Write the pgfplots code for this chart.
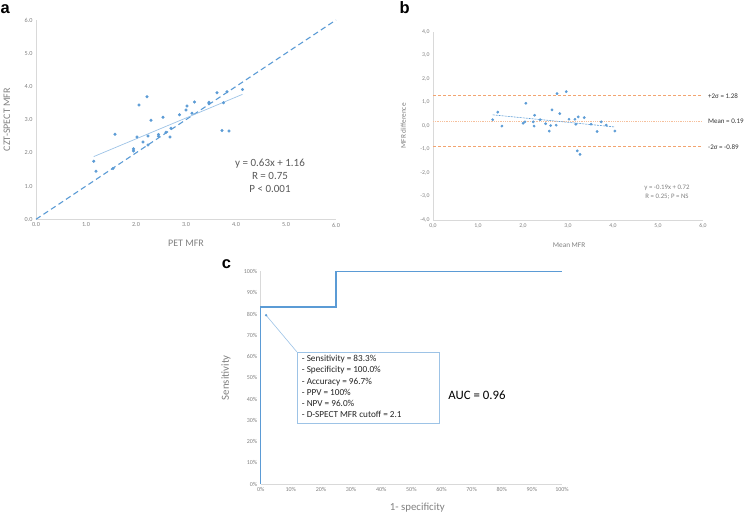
\documentclass[border=0pt]{standalone}
\usepackage{fontspec}
\setmainfont{Carlito}
\newfontfamily\panelfont{Liberation Sans}
\usepackage{pgfplots}
\pgfplotsset{compat=1.18}

\definecolor{xlblue}{HTML}{5B9BD5}
\definecolor{trendblue}{HTML}{9DC3E6}
\definecolor{axgray}{HTML}{D9D9D9}
\definecolor{tkgray}{HTML}{808080}
\definecolor{txgray}{HTML}{595959}
\definecolor{xlorange}{HTML}{F2A470}
\definecolor{meanorange}{HTML}{F6C09C}

\pgfplotsset{
  excel/.style={
    scale only axis, enlargelimits=false, clip=false,
    axis x line*=bottom, axis y line*=left,
    axis line style={-, axgray, line width=0.8pt},
    major tick length=0pt,
    tick label style={text=tkgray},
    label style={text=tkgray},
    /pgf/number format/assume math mode=true,
  },
  dots/.style={only marks, mark=*, mark size=1.35pt, color=xlblue},
}

\begin{document}
\begin{tikzpicture}[x=1pt,y=1pt]
\useasboundingbox (0,0) rectangle (746,514);

% panel letters
\node[anchor=base west, inner sep=0, font=\panelfont\bfseries\fontsize{16.5}{18}\selectfont] at (0.5,500.7) {a};
\node[anchor=base west, inner sep=0, font=\panelfont\bfseries\fontsize{16.5}{18}\selectfont] at (399.3,500.7) {b};
\node[anchor=base west, inner sep=0, font=\panelfont\bfseries\fontsize{16.5}{18}\selectfont] at (221.6,245.7) {c};

% ---------- a: CZT-SPECT vs PET ----------
\begin{axis}[excel,
  at={(36pt,294.7pt)}, anchor=south west,
  width=300pt, height=199.3pt,
  xmin=0, xmax=6, ymin=0, ymax=6,
  xtick={0,1,...,6}, ytick={0,1,...,6},
  /pgf/number format/.cd, fixed, fixed zerofill, precision=1, /pgfplots/.cd,
  tick label style={font=\fontsize{6.2}{7}\selectfont},
  xlabel={PET MFR}, ylabel={CZT-SPECT MFR},
  label style={font=\fontsize{10}{12}\selectfont},
  xlabel style={at={(axis description cs:0.5,-0.119)}, anchor=center},
  ylabel style={at={(axis description cs:-0.097,0.5)}, anchor=center},
]
\addplot[xlblue, line width=1.1pt, dash pattern=on 5.5pt off 3.5pt] coordinates {(0,0) (6,6)};
\addplot[trendblue, line width=0.7pt] coordinates {(1.155,1.888) (4.13,3.762)};
\addplot[dots] coordinates {
 (1.155,1.745) (1.20,1.45) (1.54,1.53) (1.58,2.56) (1.95,2.12) (1.95,2.06)
 (2.02,2.48) (2.06,3.44) (2.14,2.33) (2.22,3.69) (2.24,2.51) (2.24,2.24)
 (2.30,2.98) (2.45,2.55) (2.45,2.50) (2.54,3.07) (2.60,2.62) (2.68,2.48)
 (2.70,2.74) (2.87,3.15) (3.00,3.29) (3.02,3.41) (3.12,3.19) (3.17,3.53)
 (3.46,3.52) (3.46,3.48) (3.62,3.81) (3.72,2.67) (3.75,3.51) (3.82,3.84)
 (3.86,2.66) (4.13,3.91)};
\node[text=txgray, font=\fontsize{11}{13}\selectfont, align=center] at (axis cs:4.68,1.32)
  {y = 0.63x + 1.16\\R = 0.75\\P < 0.001};
\end{axis}

% ---------- b: Bland-Altman ----------
\begin{axis}[excel,
  at={(433pt,294pt)}, anchor=south west,
  width=270pt, height=188.3pt,
  xmin=0, xmax=6, ymin=-4, ymax=4,
  xtick={0,1,...,6}, ytick={-4,-3,...,4},
  /pgf/number format/.cd, fixed, fixed zerofill, precision=1, use comma, /pgfplots/.cd,
  tick label style={font=\fontsize{5.8}{7}\selectfont},
  xlabel={Mean MFR}, ylabel={MFR difference},
  label style={font=\fontsize{7.3}{9}\selectfont},
  xlabel style={at={(axis description cs:0.504,-0.133)}, anchor=center},
  ylabel style={at={(axis description cs:-0.11,0.5)}, anchor=center},
]
\addplot[xlorange, line width=0.9pt, dash pattern=on 3pt off 2pt] coordinates {(0,1.28) (6,1.28)};
\addplot[meanorange, line width=1pt, dash pattern=on 1pt off 0.8pt] coordinates {(0,0.19) (6,0.19)};
\addplot[xlorange, line width=0.9pt, dash pattern=on 3pt off 2pt] coordinates {(0,-0.89) (6,-0.89)};
\addplot[xlblue, line width=0.6pt, dash pattern=on 2pt off 1pt] coordinates {(1.327,0.468) (4.043,-0.048)};
\addplot[dots, mark size=1.2pt] coordinates {
 (1.327,0.26) (1.439,0.58) (1.531,-0.01) (2.001,0.11) (2.042,0.17) (2.062,0.96)
 (2.226,0.17) (2.246,-0.01) (2.256,0.45) (2.379,0.26) (2.501,0.09) (2.583,-0.22)
 (2.614,0.01) (2.644,0.68) (2.736,0.03) (2.757,1.37) (2.818,0.52) (2.961,1.45)
 (3.022,0.28) (3.155,0.28) (3.175,0.07) (3.206,-1.06) (3.226,0.38) (3.267,-1.21)
 (3.359,0.35) (3.512,0.07) (3.645,-0.24) (3.737,0.17) (3.849,0.03) (4.043,-0.22)};
\begin{scope}[every node/.style={anchor=west, inner sep=0, text=black!80, font=\fontsize{7}{8}\selectfont}]
\node at (axis cs:6.11,1.28) {+2σ = 1.28};
\node at (axis cs:6.11,0.19) {Mean = 0.19};
\node at (axis cs:6.11,-0.89) {-2σ = -0.89};
\end{scope}
\node[text=tkgray, font=\fontsize{6.8}{8}\selectfont] at (axis cs:5.2,-2.65) {y = -0.19x + 0.72};
\node[text=tkgray, font=\fontsize{6.8}{8}\selectfont] at (axis cs:5.2,-3.03) {R = 0.25; P = NS};
\end{axis}

% ---------- c: ROC ----------
\begin{axis}[excel,
  at={(260.7pt,30pt)}, anchor=south west,
  width=301.3pt, height=212.5pt,
  xmin=0, xmax=100, ymin=0, ymax=100,
  xtick={0,10,...,100}, ytick={0,10,...,100},
  xticklabels={0\%,10\%,20\%,30\%,40\%,50\%,60\%,70\%,80\%,90\%,100\%},
  yticklabels={0\%,10\%,20\%,30\%,40\%,50\%,60\%,70\%,80\%,90\%,100\%},
  tick label style={font=\fontsize{6}{7}\selectfont},
  xlabel={1- specificity}, ylabel={Sensitivity},
  label style={font=\fontsize{10.8}{12}\selectfont},
  xlabel style={at={(axis description cs:0.52,-0.112)}, anchor=center},
  ylabel style={at={(axis description cs:-0.115,0.5)}, anchor=center},
]
\addplot[xlblue, line width=1.3pt, line join=miter] coordinates {(0,0) (0,83.3) (25,83.3) (25,100) (100,100)};
\draw[trendblue, line width=0.6pt] (axis cs:1.8,79.4) -- (axis cs:12.05,62.1);
\addplot[dots, mark size=1pt] coordinates {(1.8,79.4)};
\draw[trendblue, line width=0.8pt, fill=white] (axis cs:12.05,28.7) rectangle (axis cs:59.2,62.1);
\begin{scope}[every node/.style={anchor=base west, inner sep=0, text=black!85, font=\fontsize{9.2}{11}\selectfont}]
\node at (axis cs:13.6,57.5) {- Sensitivity = 83.3\%};
\node at (axis cs:13.6,52.25) {- Specificity = 100.0\%};
\node at (axis cs:13.6,47.0) {- Accuracy = 96.7\%};
\node at (axis cs:13.6,41.75) {- PPV = 100\%};
\node at (axis cs:13.6,36.5) {- NPV = 96.0\%};
\node at (axis cs:13.6,31.25) {- D-SPECT MFR cutoff = 2.1};
\end{scope}
\node[text=black, font=\fontsize{12.8}{15}\selectfont] at (axis cs:71.8,42.0) {AUC = 0.96};
\end{axis}
\end{tikzpicture}
\end{document}
